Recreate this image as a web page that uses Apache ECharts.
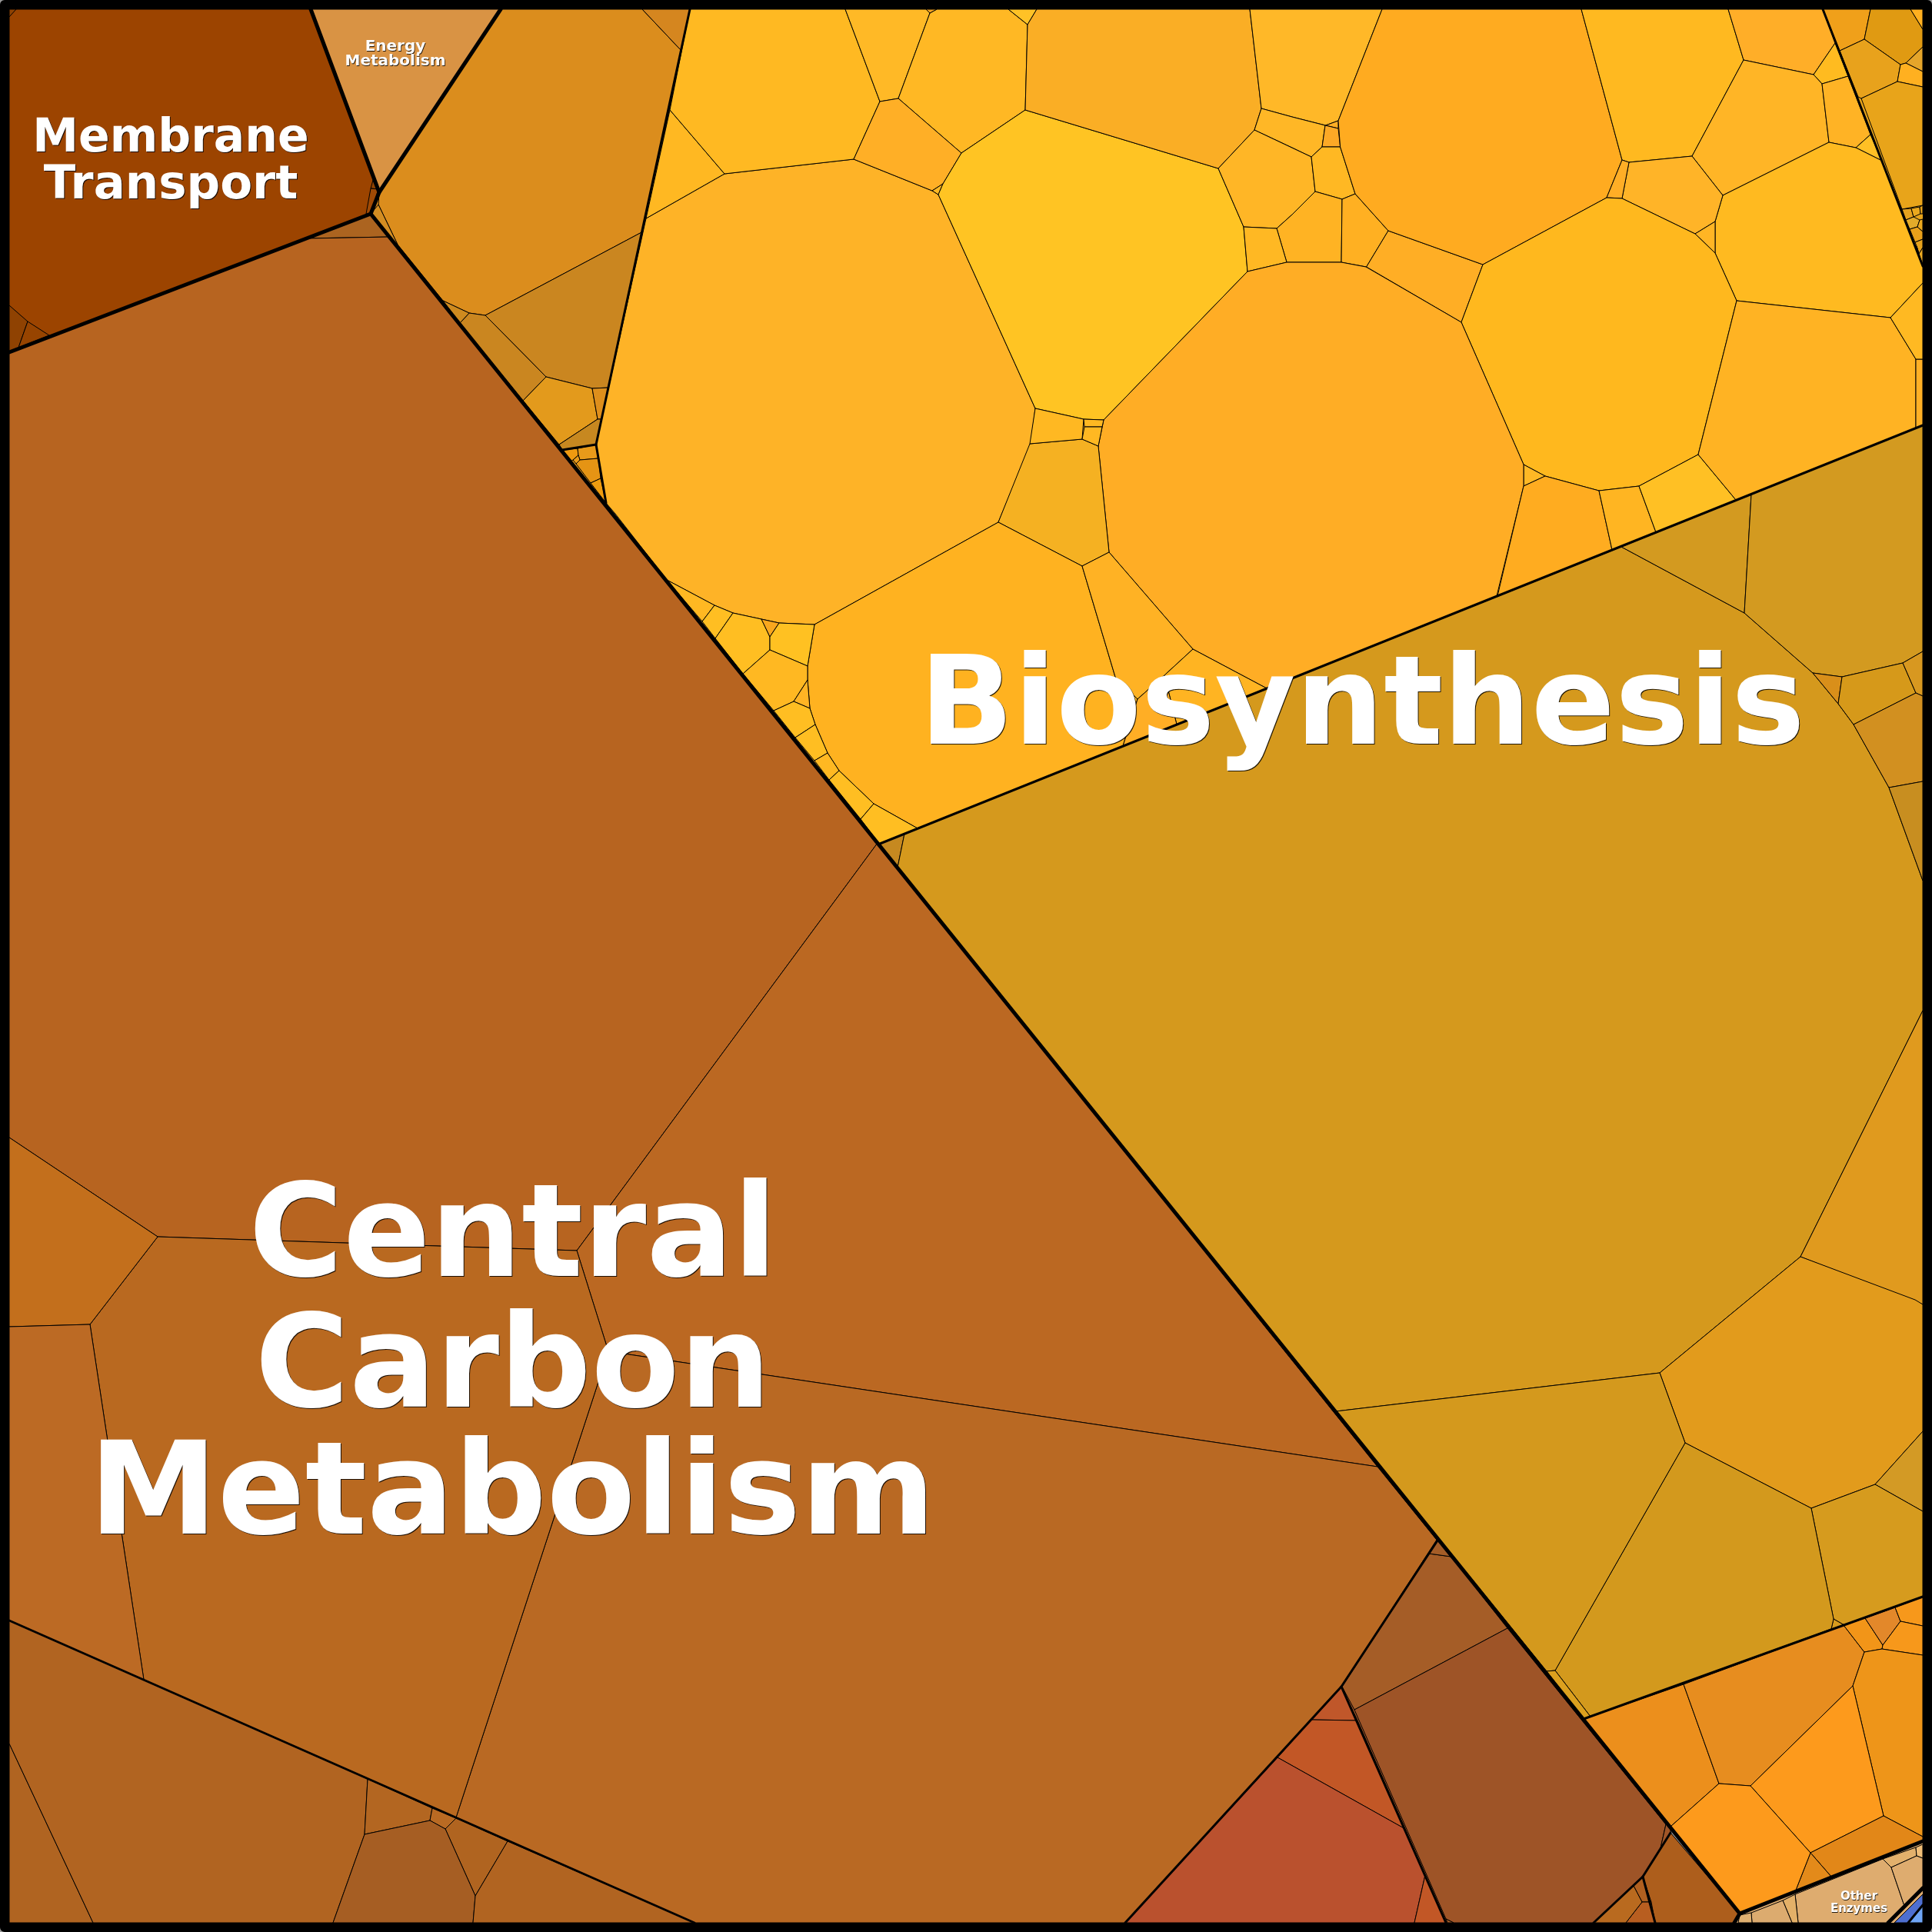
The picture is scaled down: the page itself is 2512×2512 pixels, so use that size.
<!DOCTYPE html>
<html><head><meta charset="utf-8">
<style>html,body{margin:0;padding:0;background:#fff}#c{width:2512px;height:2512px}</style>
<script src="https://cdn.jsdelivr.net/npm/echarts@6/dist/echarts.min.js"></script>
</head><body><div id="c"></div>
<script>
// Voronoi treemap cells: each cell is a list of [x, y] vertices in data units (0-2512).
const baseRegions = [
 [[12,12],[404,12],[493,250],[482,278],[12,458]],
 [[404,12],[651,12],[493,250]],
 [[12,458],[482,278],[1868,2002],[1744,2193],[1463,2500],[903,2500],[12,2107]],
 [[12,2107],[903,2500],[12,2500]],
 [[651,12],[897,12],[775,578],[731,585],[482,278],[493,250]],
 [[731,585],[775,578],[788,654]],
 [[897,12],[2370,12],[2500,346],[2500,553],[1144,1097],[788,654],[775,578]],
 [[2370,12],[2500,12],[2500,346]],
 [[1144,1097],[2500,553],[2500,2076],[2059,2235]],
 [[2059,2235],[2500,2076],[2500,2394],[2262,2488]],
 [[2262,2488],[2500,2394],[2500,2500],[2255,2500]],
 [[1744,2193],[1880,2500],[1463,2500]],
 [[1744,2193],[1869,2003],[2172,2375],[2072,2500],[1880,2500]],
 [[2172,2383],[2262,2488],[2255,2500],[2072,2500],[2136,2440]]
];
const baseColors = ['#9C4400','#D99344','#B86420','#B16421','#DB8D1D','#E89A1A','#FFB525','#E8A41A','#D5991D','#EE9519','#DEAC6F','#BA512E','#9E5427','#AD5E1C'];

const membraneCells = [
 [[12,12],[404,12],[493,250],[482,278],[12,458]],
 [[12,397],[36,418],[24,452],[12,458]],
 [[36,418],[64,436],[24,452]],
 [[485,234],[482,245],[492,246],[493,250]],
 [[482,245],[492,246],[482,278],[476,278]],
 [[12,22],[21,12],[12,12]]
];
const membraneColors = ['#9C4400','#8F4202','#974400','#8F4202','#A04A05','#8F4202'];

const energyCells = [[[404,12],[651,12],[493,250]]];
const energyColors = ['#D99344'];

const carbonCells = [
 [[399,310],[506,308],[482,278]],
 [[12,458],[399,310],[506,308],[1141,1096],[750,1626],[205,1608],[12,1479]],
 [[1141,1096],[1791,1907],[791,1757],[750,1626]],
 [[791,1757],[1791,1907],[1868,2002],[1744,2193],[1463,2500],[903,2500],[593,2363]],
 [[205,1608],[750,1626],[791,1757],[593,2363],[187,2184],[117,1722]],
 [[12,1479],[205,1608],[117,1722],[12,1725]],
 [[12,1725],[117,1722],[187,2184],[12,2107]],
 [[12,2267],[121,2500],[12,2500]],
 [[12,2107],[478,2313],[474,2385],[433,2500],[121,2500],[12,2267]],
 [[478,2313],[562,2351],[559,2367],[474,2385]],
 [[562,2351],[593,2364],[579,2378],[559,2367]],
 [[593,2364],[660,2394],[618,2465],[579,2378]],
 [[474,2385],[559,2367],[579,2378],[618,2465],[615,2500],[433,2500]],
 [[660,2394],[903,2500],[615,2500],[618,2465]]
];
const carbonColors = ['#AC6420','#B76420','#BB6822','#B96923','#B96920','#C36F1C','#BC6A24','#B06421','#B16421','#B36621','#B96A23','#B06420','#A65E23','#B16421'];

const darkOrangeCells = [
 [[651,12],[835,12],[886,66],[838,300],[631,410],[610,407],[576,391],[517,318],[492,266],[493,250]],
 [[835,12],[897,12],[886,66]],
 [[631,410],[838,300],[792,504],[770,505],[710,490]],
 [[610,407],[631,410],[710,490],[680,521],[598,420]],
 [[710,490],[770,505],[777,545],[727,578],[680,521]],
 [[770,505],[792,504],[782,545],[777,545]],
 [[777,545],[782,545],[775,578],[731,585],[727,578]],
 [[576,391],[610,407],[598,420]],
 [[482,278],[492,266],[517,318],[517,323]],
 [[731.7,585],[751,583],[752,592],[745,598],[742,600]],
 [[751,583],[775,578],[778,596],[754,598],[752,592]],
 [[745,598],[752,592],[754,598],[749,603]],
 [[754,598],[778,596],[781,622],[768,628],[749,603]],
 [[768,628],[781,622],[788,654]]
];
const darkOrangeColors = ['#DB8D1D','#D5861F','#CA8620','#CA8620','#E39A1C','#DE8F1C','#C78820','#CE8A1F','#D38D22','#F09A10','#E89A1A','#E89A1A','#E59414','#EE9C10'];

const yellowCells = [
 [[840,284],[942,226],[1110,207],[1212,248],[1220,253],[1346,531],[1340,578],[1298,679],[1059,812],[1013,810],[990,805],[953,797],[929,787],[867,754],[800,668],[788,654],[775,578]],
 [[840,284],[942,226],[871,143]],
 [[897,12],[1099,12],[1144,132],[1110,207],[942,226],[871,143]],
 [[1099,12],[1204,12],[1209,17],[1168,128],[1144,132]],
 [[1209,17],[1218,12],[1311,12],[1336,32],[1333,143],[1250,199],[1168,128]],
 [[1204,12],[1218,12],[1209,17]],
 [[1311,12],[1348,12],[1336,32]],
 [[1110,207],[1144,132],[1168,128],[1250,199],[1226,239],[1212,248]],
 [[1212,248],[1226,239],[1220,253]],
 [[1333,143],[1584,219],[1617,295],[1622,353],[1435,546],[1409,545],[1346,531],[1220,253],[1226,239],[1250,199]],
 [[1348,12],[1625,12],[1640,141],[1631,169],[1584,219],[1333,143],[1336,32]],
 [[1625,12],[1797,12],[1740,157],[1723.5,163],[1680,152],[1640,141]],
 [[1640,141],[1680,152],[1723,163],[1719,191],[1705,204],[1680,192],[1631,169]],
 [[1723.5,163],[1740,157],[1740,167]],
 [[1723,163],[1740,167],[1742.6,191],[1719,191]],
 [[1631,169],[1705,204],[1710,249],[1680,279],[1660,297],[1617,295],[1584,219]],
 [[1719,191],[1742.6,191],[1762,252],[1745,259],[1710,249],[1705,204]],
 [[1710,249],[1745,259],[1744,341],[1673,341],[1660,297],[1680,279]],
 [[1660,297],[1673,341],[1622,353],[1617,295]],
 [[1745,259],[1762,252],[1805,300],[1776.6,347],[1744,341]],
 [[1805,300],[1928,344],[1900,419],[1776.6,347]],
 [[1797,12],[2056,12],[2109,208],[2089,257],[1928,344],[1805,300],[1762,252],[1742.6,191],[1740,157]],
 [[2056,12],[2247,12],[2267,78],[2200,203],[2118,211],[2109,208]],
 [[2247,12],[2370,12],[2386,56],[2358,97],[2267,78]],
 [[2386,56],[2403,99],[2369,109],[2358,97]],
 [[2267,78],[2358,97],[2369,109],[2378,185],[2240,254],[2200,203]],
 [[2369,109],[2403,99],[2432,175],[2413,192],[2378,185]],
 [[2432,175],[2447,209],[2413,192]],
 [[2378,185],[2413,192],[2447,209],[2500,346],[2500,368],[2458,413],[2258,391],[2230,329],[2230,288],[2240,254]],
 [[2118,211],[2200,203],[2240,254],[2230,288],[2204,304],[2109,258]],
 [[2109,208],[2118,211],[2109,258],[2089,257]],
 [[2204,304],[2230,288],[2230,329]],
 [[2089,257],[2109,258],[2204,304],[2230,329],[2258,391],[2208,591],[2131,632],[2079,638],[2009,619],[1981,604],[1900,419],[1928,344]],
 [[1981,604],[2009,619],[1981,632]],
 [[1435,546],[1622,353],[1673,341],[1744,341],[1776,347],[1900,419],[1981,604],[1981,632],[1946,775],[1647,895],[1551,844],[1442,718],[1428,580]],
 [[1981,632],[2009,619],[2079,638],[2096,715],[1947,775]],
 [[2079,638],[2131,632],[2153,692],[2096,715]],
 [[2131,632],[2208,591],[2257,650],[2153,692]],
 [[2208,591],[2258,391],[2458,413],[2491,467],[2491,557],[2257,650]],
 [[2491,467],[2500,467],[2500,553],[2491,557]],
 [[2458,413],[2500,368],[2500,467],[2491,467]],
 [[1339,577],[1407,571],[1428,580],[1442,718],[1407,736],[1298,679]],
 [[1346,531],[1409,545],[1407,571],[1339,577]],
 [[1409,545],[1435,546],[1433,555],[1410,555]],
 [[1410,555],[1433,555],[1428,580],[1407,571]],
 [[1059,812],[1298,679],[1407,736],[1450,880],[1479,909],[1460,970],[1435,980],[1193,1077],[1136,1045],[1091,1002],[1076,979],[1060,942],[1053,921],[1050,884],[1050,866]],
 [[1407,736],[1442,718],[1551,844],[1514,878],[1479,909],[1450,880]],
 [[1551,844],[1647,895],[1530,942],[1514,878]],
 [[1479,909],[1514,878],[1530,942],[1460,970]],
 [[867,754],[929,787],[913,808]],
 [[929,787],[953,797],[930,830],[913,808]],
 [[953,797],[990,805],[1001,828],[1001,845],[966,876],[930,830]],
 [[990,805],[1013,810],[1001,828]],
 [[1013,810],[1059,812],[1050,866],[1001,845],[1001,828]],
 [[1001,845],[1050,866],[1050,884],[1032,912],[1006,924],[966,876]],
 [[1050,884],[1053,921],[1032,912]],
 [[1032,912],[1053,921],[1060,942],[1034,959],[1006,924]],
 [[1060,942],[1076,979],[1059,989],[1034,959]],
 [[1076,979],[1091,1002],[1078,1014],[1059,989]],
 [[1091,1002],[1136,1045],[1119,1065],[1078,1014]],
 [[1136,1045],[1193,1077],[1143,1097],[1119,1065]]
];
const yellowColors = ['#FEB327','#FFB822','#FFB922','#FFB926','#FFB824','#F0A020','#FFC226','#FFAF26','#FFB822','#FFC423','#FAAE25','#FFB828','#FFB726','#FFAE25','#FCA926','#FFB626','#FFB823','#FFB323','#FFB823','#FFB022','#FFAE25','#FFAB20','#FFB920','#FFAE28','#FFBB20','#FFB526','#FFB325','#FFC025','#FFBA20','#FFB428','#FFAE26','#FFB524','#FFB81E','#FFB825','#FFAD25','#FFAC20','#FFB522','#FFC024','#FFB323','#FFB025','#FFB922','#F5B122','#FFB822','#FFB822','#FFB822','#FFB220','#FFB224','#FFB422','#FFAE25','#FFB822','#FFBE22','#FFBE22','#F9A71E','#FFC122','#FFB822','#FFB424','#FFBE22','#FFBE22','#FFB822','#FFBE22','#FFBE22'];

const cornerCells = [
 [[2370,12],[2432,12],[2424,51],[2392,66]],
 [[2432,12],[2484,12],[2500,38],[2500,61],[2478,82],[2471,84],[2424,51]],
 [[2484,12],[2500,12],[2500,38]],
 [[2392,66],[2424,51],[2471,84],[2467,106],[2420,128],[2416,126]],
 [[2478,82],[2500,61],[2500,93]],
 [[2471,84],[2478,82],[2500,93],[2500,113],[2467,106]],
 [[2420,128],[2467,106],[2500,113],[2500,267],[2473,272]],
 [[2473,272],[2485,271],[2488,282],[2478,286]],
 [[2485,271],[2496,269],[2497,278],[2488,282]],
 [[2496,269],[2500,267],[2500,278],[2497,278]],
 [[2478,286],[2488,282],[2496,286],[2493,295],[2483,298]],
 [[2483,298],[2493,295],[2500,301],[2500,311],[2490,315]],
 [[2496,286],[2500,285],[2500,301],[2493,295]],
 [[2490,315],[2500,311],[2500,322],[2495,330],[2492,320]],
 [[2492,320],[2495,330],[2500,322],[2500,346]]
];
const cornerColors = ['#F0A01A','#E09A12','#FFB020','#E8A21C','#E5A52A','#FFB020','#E8A41A','#E6A21E','#EAA81E','#E8A41A','#E3AB2A','#E8A01A','#EAA81E','#E6A21C','#EBAA22'];

const oliveCells = [
 [[1144,1097],[1176,1084],[1167,1128]],
 [[1176,1084],[2108,711],[2268,797],[2357,875],[2390,915],[2410,942],[2456,1024],[2500,1145],[2500,1314],[2341,1634],[2158,1785],[1737,1835],[1167,1128]],
 [[2108,711],[2277,643],[2268,797]],
 [[2277,643],[2500,553],[2500,847],[2474,862],[2395,880],[2357,875],[2268,797]],
 [[2357,875],[2395,880],[2390,915]],
 [[2395,880],[2474,862],[2491,901],[2410,942],[2390,915]],
 [[2474,862],[2500,847],[2500,905],[2491,901]],
 [[2410,942],[2491,901],[2500,905],[2500,1016],[2456,1024]],
 [[2456,1024],[2500,1016],[2500,1145]],
 [[2500,1314],[2500,1696],[2341,1634]],
 [[2341,1634],[2490,1690],[2500,1696],[2500,1861],[2438,1930],[2355,1961],[2191,1876],[2158,1785]],
 [[2500,1861],[2438,1930],[2500,1965]],
 [[2355,1961],[2438,1930],[2500,1965],[2500,2076],[2398,2113],[2384,2105]],
 [[2384,2105],[2398,2113],[2381,2118]],
 [[2191,1876],[2355,1961],[2384,2105],[2381,2118],[2068,2232],[2022,2172]],
 [[1737,1835],[2158,1785],[2191,1876],[2022,2172],[2011,2173]],
 [[2011,2173],[2022,2172],[2068,2232],[2059,2235]]
];
const oliveColors = ['#C68920','#D5991D','#D39A20','#D39A20','#D98F1A','#D6991A','#D89820','#D29020','#C88E20','#E09A1E','#E29B1C','#D39A25','#D69B1E','#D69B1E','#D3991D','#D4991D','#DCA01E'];

const orangeCells = [
 [[2059,2235],[2189,2190],[2235,2319],[2172,2375]],
 [[2189,2190],[2397,2113],[2424,2148],[2409,2192],[2276,2322],[2235,2319]],
 [[2397,2113],[2425,2104],[2448,2139],[2447,2144],[2424,2148]],
 [[2425,2104],[2464,2090],[2471,2108],[2448,2139]],
 [[2464,2090],[2500,2076],[2500,2114],[2471,2108]],
 [[2471,2108],[2500,2114],[2500,2152],[2447,2144],[2448,2139]],
 [[2447,2144],[2500,2152],[2500,2388],[2449,2361],[2409,2192],[2424,2148]],
 [[2276,2322],[2409,2192],[2449,2361],[2354,2409]],
 [[2449,2361],[2500,2388],[2500,2394],[2381,2440],[2354,2409]],
 [[2354,2409],[2381,2440],[2334,2460]],
 [[2235,2319],[2276,2322],[2354,2409],[2334,2460],[2262,2488],[2172,2375]]
];
const orangeColors = ['#EC8F1C','#E78D1F','#F29518','#E3882A','#F7981B','#F7981B','#EE9519','#FD9A1C','#E28718','#E38A1A','#FD9A1C'];

const enzymeCells = [
 [[2334,2463],[2448,2417],[2459,2428],[2476,2478],[2455,2500],[2338,2500]],
 [[2448,2417],[2491,2402],[2492,2413],[2459,2428]],
 [[2491,2402],[2500,2398],[2500,2416],[2492,2413]],
 [[2459,2428],[2492,2413],[2500,2416],[2500,2455],[2476,2478]],
 [[2318,2471],[2334,2463],[2338,2500],[2330,2500]],
 [[2277,2487],[2318,2471],[2330,2500],[2278,2500]],
 [[2262,2490],[2277,2487],[2278,2500],[2260,2500]]
];
const enzymeColors = ['#DEAC6F','#E2B06C','#F0BE78','#DEAC6F','#E3B068','#DCAB6F','#E0B070'];

const blueCells = [
 [[2463,2500],[2500,2463],[2500,2477],[2481,2500]],
 [[2481,2500],[2500,2477],[2500,2500]]
];
const blueColors = ['#4E6FD0','#6FA5F5'];

const redCells = [
 [[1744,2193],[1765,2237],[1705,2236]],
 [[1705,2236],[1765,2237],[1827,2378],[1661,2285]],
 [[1661,2285],[1827,2378],[1853,2438],[1839,2500],[1463,2500]],
 [[1853,2438],[1880,2500],[1839,2500]]
];
const redColors = ['#C0572A','#C25726','#BA512E','#C25726'];

const brownCells = [
 [[1745,2193],[1858,2020],[1887,2024],[1960,2117],[1761,2223]],
 [[1869,2003],[1887,2024],[1858,2020]],
 [[1761,2223],[1960,2117],[2166,2372],[2159,2403],[2136,2440],[2072,2500],[1890,2500],[1880,2495]],
 [[2166,2372],[2172,2375],[2172,2383],[2159,2403]],
 [[1880,2495],[1890,2500],[1882,2500]],
 [[2172,2383],[2262,2488],[2255,2500],[2152,2500],[2136,2440]],
 [[2136,2440],[2147,2473],[2135,2473],[2124,2452]],
 [[2147,2473],[2152,2500],[2114,2500],[2135,2473]],
 [[2124,2452],[2135,2473],[2114,2500],[2072,2500]]
];
const brownColors = ['#A55D27','#A55D27','#9E5427','#A05628','#A55D27','#AD5E1C','#B06020','#B85E20','#B96A1F'];

// Thick hierarchy outlines
const topBoundaries = [
 [[482,278],[2262,2488]],
 [[12,458],[482,278]],
 [[404,12],[493,250],[482,278]],
 [[651,12],[493,250]],
 [[2262,2488],[2500,2394]],
 [[2262,2488],[2255,2500]],
 [[2455,2500],[2500,2455]]
];
const midBoundaries = [
 [[1144,1097],[2500,553]],
 [[2059,2235],[2500,2076]],
 [[2370,12],[2500,346]],
 [[897,12],[775,578],[788,654]],
 [[731,585],[775,578]],
 [[12,2107],[903,2500]],
 [[1869,2003],[1744,2193],[1463,2500]],
 [[1744,2193],[1880,2500]],
 [[2172,2383],[2136,2440],[2072,2500]],
 [[2136,2440],[2152,2500]],
 [[2481,2500],[2500,2477]]
];

const labelLines = ['Membrane','Transport','Energy','Metabolism','Biosynthesis','Central','Carbon','Metabolism','Other','Enzymes'];
const labelX = [222,222,514,514,1771,667,667,666,2417,2417];
const labelY = [151,212,51,70,845,1532,1702,1866,2459,2475];
const labelSize = [60,61,20,20,161,167,167,168,15,15];

const cellGroups = [
 [membraneCells,membraneColors],[energyCells,energyColors],[carbonCells,carbonColors],[darkOrangeCells,darkOrangeColors],
 [yellowCells,yellowColors],[cornerCells,cornerColors],[oliveCells,oliveColors],[orangeCells,orangeColors],
 [enzymeCells,enzymeColors],[blueCells,blueColors],[redCells,redColors],[brownCells,brownColors]
];
const cells = [], colors = [];
cellGroups.forEach(g => g[0].forEach((c,i) => { cells.push(c); colors.push(g[1][i]); }));

const pointRows = list => list.map(p => ({value:[p[0][0],p[0][1]]}));
function polyItem(polys, cols, width) {
  return (params, api) => ({
    type:'polygon',
    shape:{points:polys[params.dataIndex].map(p => api.coord(p))},
    style:{fill:cols[params.dataIndex], stroke:width?'#000':null, lineWidth:width, lineJoin:'round'},
    silent:true
  });
}
function lineItem(lines, width) {
  return (params, api) => ({
    type:'polyline',
    shape:{points:lines[params.dataIndex].map(p => api.coord(p))},
    style:{fill:null, stroke:'#000', lineWidth:width, lineJoin:'round', lineCap:'round'},
    silent:true
  });
}
const common = {type:'custom', coordinateSystem:'cartesian2d', clip:false, silent:true, animation:false};
const frame = [[[6,6],[2506,6],[2506,2506],[6,2506],[6,6]]];

const chart = echarts.init(document.getElementById('c'), null, {width:2512, height:2512, renderer:'canvas'});
chart.setOption({
  animation:false,
  backgroundColor:'#9a9a9a',
  grid:{left:0,right:0,top:0,bottom:0},
  xAxis:{type:'value',min:0,max:2512,show:false},
  yAxis:{type:'value',min:0,max:2512,inverse:true,show:false},
  tooltip:{show:false},
  series:[
    Object.assign({},common,{z:1,data:pointRows(baseRegions),renderItem:polyItem(baseRegions,baseColors,0)}),
    Object.assign({},common,{z:2,data:pointRows(cells),renderItem:polyItem(cells,colors,1)}),
    Object.assign({},common,{z:3,data:pointRows(midBoundaries),renderItem:lineItem(midBoundaries,3)}),
    Object.assign({},common,{z:4,data:pointRows(topBoundaries),renderItem:lineItem(topBoundaries,5)}),
    Object.assign({},common,{z:5,data:pointRows(frame),renderItem:lineItem(frame,12)}),
    Object.assign({},common,{z:6,data:labelLines.map((t,i)=>({value:[labelX[i],labelY[i]]})),
      renderItem:(params,api)=>{
        const i=params.dataIndex, pt=api.coord([labelX[i],labelY[i]]), s=labelSize[i], off=s>30?1:0.7;
        return {type:'text',silent:true,style:{
          text:labelLines[i],x:pt[0],y:pt[1],align:'center',verticalAlign:'top',
          fill:'#fff',fontFamily:'DejaVu Sans',fontWeight:'bold',fontSize:s,
          textShadowColor:'rgba(0,0,0,0.85)',textShadowOffsetX:off,textShadowOffsetY:off,textShadowBlur:0.6,
          shadowColor:'rgba(0,0,0,0.85)',shadowOffsetX:off,shadowOffsetY:off,shadowBlur:0.6
        }};
      }})
  ]
});
</script></body></html>
